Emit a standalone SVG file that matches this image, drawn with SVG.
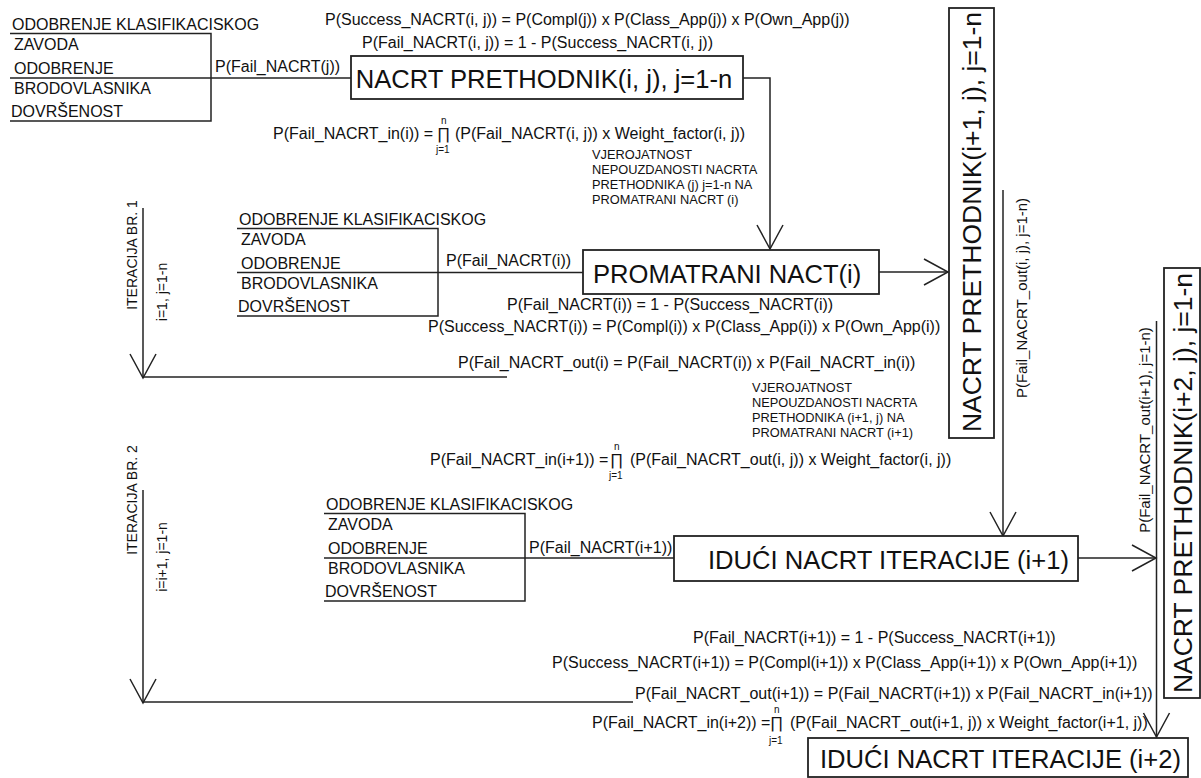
<svg xmlns="http://www.w3.org/2000/svg" width="1201" height="778" viewBox="0 0 1201 778">
<defs>
<marker id="v" markerUnits="userSpaceOnUse" markerWidth="30" markerHeight="30" refX="25" refY="13" orient="auto" overflow="visible">
<path d="M1,0 L25,13 L1,26" fill="none" stroke="#222" stroke-width="1.5"/>
</marker>
<style>
text{font-family:"Liberation Sans",Arial,sans-serif;fill:#111}
.s{font-size:16px}
.b{font-size:25.6px}
.bv{font-size:26.5px}
.v{font-size:12.8px}
.t{font-size:10px}
.r{font-size:14px}
.lv{font-size:15px}
.ln{fill:none;stroke:#222;stroke-width:1.5}
.box{fill:#fff;stroke:#222;stroke-width:1.8}
</style>
</defs>
<rect width="1201" height="778" fill="#fff"/>

<g id="connectors">
<path class="ln" d="M10,78 H351"/>
<path class="ln" d="M743,78 H770 V249" marker-end="url(#v)"/>
<path class="ln" d="M237,272.5 H583"/>
<path class="ln" d="M879,272 H948" marker-end="url(#v)"/>
<path class="ln" d="M1003,190 V536" marker-end="url(#v)"/>
<path class="ln" d="M324,558 H674"/>
<path class="ln" d="M1078,558 H1156" marker-end="url(#v)"/>
<path class="ln" d="M1156.5,321 V737" marker-end="url(#v)"/>
<path class="ln" d="M143,208 V378" marker-end="url(#v)"/>
<path class="ln" d="M143,377 H507"/>
<path class="ln" d="M143,490 V703" marker-end="url(#v)"/>
<path class="ln" d="M143,702 H633"/>
<text class="s" x="215" y="72">P(Fail_NACRT(j))</text>
<text class="s" x="446" y="266">P(Fail_NACRT(i))</text>
<text class="s" x="529" y="553">P(Fail_NACRT(i+1))</text>
<text class="lv" transform="translate(1027,298) rotate(-90)" text-anchor="middle">P(Fail_NACRT_out(i, j), j=1-n)</text>
<text class="lv" transform="translate(1150,430) rotate(-90)" text-anchor="middle">P(Fail_NACRT_out(i+1), j=1-n)</text>
</g>

<g id="approvals-1">
<path class="ln" d="M10,33.5 H211 V121 H10"/>
<text class="s" x="12" y="30">ODOBRENJE KLASIFIKACISKOG</text>
<text class="s" x="14" y="50">ZAVODA</text>
<text class="s" x="14" y="74">ODOBRENJE</text>
<text class="s" x="14" y="94">BRODOVLASNIKA</text>
<text class="s" x="11" y="117">DOVRŠENOST</text>
</g>

<g id="nacrt-prethodnik-ij">
<rect class="box" x="351" y="56" width="392" height="43"/>
<text class="b" x="544" y="88" text-anchor="middle">NACRT PRETHODNIK(i, j), j=1-n</text>
</g>

<g id="formulas-ij">
<text class="s" x="325" y="25">P(Success_NACRT(i, j)) = P(Compl(j)) x P(Class_App(j)) x P(Own_App(j))</text>
<text class="s" x="362" y="48">P(Fail_NACRT(i, j)) = 1 - P(Success_NACRT(i, j))</text>
</g>

<g id="formula-in-i">
<text class="s" x="273" y="139">P(Fail_NACRT_in(i)) =</text>
<text class="s" x="437" y="139">∏</text>
<text class="t" x="441" y="124">n</text>
<text class="t" x="436" y="153">j=1</text>
<text class="s" x="455" y="139">(P(Fail_NACRT(i, j)) x Weight_factor(i, j))</text>
</g>

<g id="note-1">
<text class="v" x="592" y="159">VJEROJATNOST</text>
<text class="v" x="592" y="174">NEPOUZDANOSTI NACRTA</text>
<text class="v" x="592" y="189">PRETHODNIKA (j) j=1-n NA</text>
<text class="v" x="592" y="204">PROMATRANI NACRT (i)</text>
</g>

<g id="iteracija-1">
<text class="r" transform="translate(137,255) rotate(-90)" text-anchor="middle">ITERACIJA BR. 1</text>
<text class="r" transform="translate(167,292) rotate(-90)" text-anchor="middle">i=1, j=1-n</text>
</g>

<g id="approvals-2">
<path class="ln" d="M237,228.5 H438 V316 H237"/>
<text class="s" x="239" y="225">ODOBRENJE KLASIFIKACISKOG</text>
<text class="s" x="241" y="245">ZAVODA</text>
<text class="s" x="241" y="269">ODOBRENJE</text>
<text class="s" x="241" y="289">BRODOVLASNIKA</text>
<text class="s" x="238" y="312">DOVRŠENOST</text>
</g>

<g id="promatrani-nacrt">
<rect class="box" x="583" y="250" width="296" height="44"/>
<text class="b" x="593" y="283">PROMATRANI NACT(i)</text>
</g>

<g id="formulas-i">
<text class="s" x="507" y="310">P(Fail_NACRT(i)) = 1 - P(Success_NACRT(i))</text>
<text class="s" x="428" y="332">P(Success_NACRT(i)) = P(Compl(i)) x P(Class_App(i)) x P(Own_App(i))</text>
<text class="s" x="458" y="368">P(Fail_NACRT_out(i) = P(Fail_NACRT(i)) x P(Fail_NACRT_in(i))</text>
</g>

<g id="nacrt-prethodnik-i1">
<rect class="box" x="949" y="8" width="45" height="430"/>
<text class="bv" transform="translate(981,222) rotate(-90)" text-anchor="middle">NACRT PRETHODNIK(i+1, j), j=1-n</text>
</g>

<g id="note-2">
<text class="v" x="752" y="392">VJEROJATNOST</text>
<text class="v" x="752" y="407">NEPOUZDANOSTI NACRTA</text>
<text class="v" x="752" y="422">PRETHODNIKA (i+1, j) NA</text>
<text class="v" x="752" y="437">PROMATRANI NACRT (i+1)</text>
</g>

<g id="formula-in-i1">
<text class="s" x="430" y="465">P(Fail_NACRT_in(i+1)) =</text>
<text class="s" x="610" y="465">∏</text>
<text class="t" x="614" y="450">n</text>
<text class="t" x="609" y="479">j=1</text>
<text class="s" x="630" y="465">(P(Fail_NACRT_out(i, j)) x Weight_factor(i, j))</text>
</g>

<g id="iteracija-2">
<text class="r" transform="translate(137,500) rotate(-90)" text-anchor="middle">ITERACIJA BR. 2</text>
<text class="r" transform="translate(167,557) rotate(-90)" text-anchor="middle">i=i+1, j=1-n</text>
</g>

<g id="approvals-3">
<path class="ln" d="M324,513.5 H525 V601 H324"/>
<text class="s" x="326" y="510">ODOBRENJE KLASIFIKACISKOG</text>
<text class="s" x="328" y="530">ZAVODA</text>
<text class="s" x="328" y="554">ODOBRENJE</text>
<text class="s" x="328" y="574">BRODOVLASNIKA</text>
<text class="s" x="325" y="597">DOVRŠENOST</text>
</g>

<g id="iduci-nacrt-i1">
<rect class="box" x="674" y="536" width="404" height="45"/>
<text class="b" x="708" y="569">IDUĆI NACRT ITERACIJE (i+1)</text>
</g>

<g id="formulas-i1">
<text class="s" x="693" y="643">P(Fail_NACRT(i+1)) = 1 - P(Success_NACRT(i+1))</text>
<text class="s" x="552" y="668">P(Success_NACRT(i+1)) = P(Compl(i+1)) x P(Class_App(i+1)) x P(Own_App(i+1))</text>
<text class="s" x="635" y="699">P(Fail_NACRT_out(i+1)) = P(Fail_NACRT(i+1)) x P(Fail_NACRT_in(i+1))</text>
</g>

<g id="nacrt-prethodnik-i2">
<rect class="box" x="1164" y="268" width="36" height="430"/>
<text class="bv" transform="translate(1191.5,483) rotate(-90)" text-anchor="middle">NACRT PRETHODNIK(i+2, j), j=1-n</text>
</g>

<g id="formula-in-i2">
<text class="s" x="592" y="728">P(Fail_NACRT_in(i+2)) =</text>
<text class="s" x="770" y="728">∏</text>
<text class="t" x="774" y="713">n</text>
<text class="t" x="769" y="744">j=1</text>
<text class="s" x="790" y="728">(P(Fail_NACRT_out(i+1, j)) x Weight_factor(i+1, j))</text>
</g>

<g id="iduci-nacrt-i2">
<rect class="box" x="808" y="738" width="380" height="39"/>
<text class="b" x="820" y="768">IDUĆI NACRT ITERACIJE (i+2)</text>
</g>
</svg>
